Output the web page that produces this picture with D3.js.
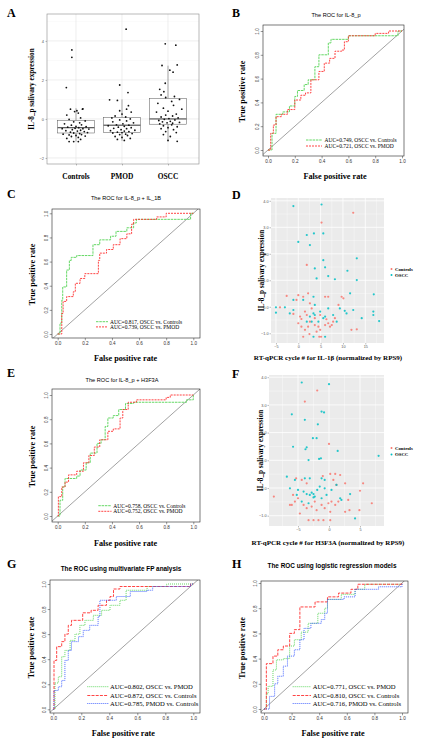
<!DOCTYPE html>
<html><head><meta charset="utf-8">
<script src="https://cdn.jsdelivr.net/npm/d3@7"></script>
<style>body{margin:0;background:#fff}svg{display:block}</style>
</head><body>
<script>
// ===================== DATA =====================
const boxCategories = ["Controls", "PMOD", "OSCC"];
// [lower whisker, q1, median, q3, upper whisker]
const boxStats = [
  [-1.16, -0.72, -0.45, -0.08, 0.55],
  [-1.12, -0.70, -0.32, 0.07, 1.0],
  [-1.15, -0.27, 0.0, 1.06, 2.73]
];
const boxYTicks = [-2, 0, 2, 4];
// [jitter offset (category units), value]
const ptsControls = [[-0.09,3.54],[-0.09,3.16],[-0.21,1.61],[0.15,0.52],[0.14,0.5],[-0.12,0.5],[0.02,0.42],[-0.03,0.38],[0.05,0.3],[-0.2,0.2],[0.1,0.05],[-0.15,-0.02],[0.2,-0.1],[-0.05,-0.15],[0.08,-0.2],[-0.25,-0.25],[0.12,-0.3],[-0.1,-0.32],[0.0,-0.38],[0.22,-0.4],[-0.18,-0.42],[0.06,-0.45],[-0.02,-0.48],[0.15,-0.5],[-0.3,-0.5],[0.28,-0.52],[-0.08,-0.55],[0.1,-0.58],[-0.22,-0.6],[0.03,-0.62],[0.18,-0.65],[-0.12,-0.68],[0.25,-0.7],[-0.05,-0.72],[0.08,-0.75],[-0.28,-0.78],[0.12,-0.8],[-0.15,-0.82],[0.0,-0.85],[0.2,-0.88],[-0.1,-0.9],[0.05,-0.95],[-0.2,-1.0],[0.1,-1.05],[-0.15,-1.16],[-0.05,-1.16],[0.05,-1.16]];
const ptsPMOD = [[0.09,4.6],[-0.05,1.74],[0.13,1.35],[-0.27,0.98],[-0.1,0.95],[0.14,0.68],[0.1,0.5],[-0.05,0.42],[0.2,0.35],[0.0,0.25],[-0.15,0.15],[0.08,0.1],[-0.22,0.05],[0.18,0.0],[-0.05,-0.05],[0.1,-0.1],[-0.2,-0.15],[0.25,-0.2],[0.02,-0.25],[-0.12,-0.3],[0.15,-0.32],[-0.3,-0.35],[0.05,-0.38],[-0.08,-0.42],[0.2,-0.45],[-0.18,-0.48],[0.1,-0.5],[-0.02,-0.55],[0.28,-0.58],[-0.25,-0.6],[0.05,-0.62],[0.15,-0.65],[-0.1,-0.68],[0.0,-0.7],[-0.2,-0.72],[0.22,-0.75],[0.08,-0.78],[-0.05,-0.8],[0.12,-0.85],[-0.15,-0.9],[0.0,-0.95],[0.18,-1.0],[-0.1,-1.05],[0.05,-1.1]];
const ptsOSCC = [[-0.06,3.85],[0.17,3.78],[-0.13,2.74],[0.2,2.77],[0.04,2.5],[0.11,2.4],[-0.06,1.83],[-0.18,1.52],[-0.09,1.4],[-0.15,1.23],[0.14,1.15],[-0.05,1.1],[0.25,1.0],[0.08,0.9],[-0.22,0.8],[0.12,0.7],[-0.1,0.55],[0.3,0.5],[0.0,0.4],[-0.25,0.35],[0.18,0.25],[-0.05,0.2],[0.1,0.15],[-0.15,0.1],[0.22,0.05],[0.02,0.02],[-0.08,-0.02],[0.15,-0.05],[-0.2,-0.08],[0.05,-0.12],[-0.12,-0.15],[0.25,-0.18],[-0.02,-0.2],[0.1,-0.22],[-0.18,-0.25],[0.08,-0.3],[-0.1,-0.35],[0.2,-0.4],[0.0,-0.45],[-0.15,-0.5],[0.12,-0.55],[-0.05,-0.65],[0.18,-0.7],[-0.1,-0.8],[0.05,-0.9],[0.0,-1.1],[0.2,-1.15]];

const rocTicks = [0, 0.2, 0.4, 0.6, 0.8, 1.0];
// ROC curves: [false positive rate, true positive rate]
const rocB_OSCCvsControls = [[0,0],[0.03,0.14],[0.06,0.30],[0.11,0.32],[0.16,0.37],[0.2,0.45],[0.22,0.5],[0.27,0.55],[0.3,0.59],[0.35,0.70],[0.38,0.80],[0.45,0.90],[0.47,0.93],[0.6,0.96],[0.97,1.0],[1,1]];
const rocB_OSCCvsPMOD = [[0,0],[0.02,0.14],[0.04,0.21],[0.06,0.28],[0.1,0.30],[0.145,0.34],[0.2,0.42],[0.245,0.46],[0.28,0.48],[0.32,0.59],[0.38,0.66],[0.42,0.73],[0.46,0.77],[0.5,0.83],[0.55,0.84],[0.57,0.91],[0.6,0.96],[0.8,0.98],[0.9,1.0],[1,1]];
const rocC_OSCCvsControls = [[0,0],[0.017,0.09],[0.03,0.28],[0.037,0.39],[0.066,0.53],[0.086,0.61],[0.1,0.635],[0.14,0.65],[0.26,0.74],[0.31,0.78],[0.39,0.81],[0.43,0.85],[0.51,0.88],[0.56,0.92],[0.58,0.95],[0.98,1.0],[1,1]];
const rocC_OSCCvsPMOD = [[0,0],[0.03,0.17],[0.04,0.27],[0.066,0.31],[0.115,0.35],[0.13,0.42],[0.165,0.46],[0.2,0.5],[0.3,0.61],[0.31,0.67],[0.36,0.70],[0.41,0.74],[0.46,0.79],[0.51,0.83],[0.545,0.91],[0.56,0.95],[0.73,0.97],[0.8,1.0],[1,1]];
const rocE_OSCCvsControls = [[0,0],[0.017,0.13],[0.037,0.24],[0.054,0.31],[0.14,0.33],[0.165,0.38],[0.21,0.44],[0.24,0.52],[0.29,0.6],[0.32,0.63],[0.35,0.74],[0.37,0.81],[0.41,0.83],[0.45,0.88],[0.5,0.93],[0.56,0.94],[0.95,0.96],[1,1]];
const rocE_OSCCvsPMOD = [[0,0],[0.005,0.16],[0.03,0.24],[0.054,0.28],[0.08,0.34],[0.14,0.37],[0.19,0.44],[0.23,0.5],[0.27,0.57],[0.31,0.63],[0.37,0.70],[0.41,0.72],[0.46,0.81],[0.48,0.88],[0.52,0.94],[0.58,0.96],[0.8,0.98],[0.83,1.0],[1,1]];
const rocG_OSCCvsPMOD = [[0,0],[0.012,0.21],[0.036,0.26],[0.06,0.42],[0.083,0.47],[0.12,0.55],[0.155,0.6],[0.19,0.67],[0.226,0.71],[0.286,0.75],[0.345,0.79],[0.405,0.83],[0.476,0.87],[0.52,0.95],[0.67,0.98],[0.81,1.0],[1,1]];
const rocG_OSCCvsControls = [[0,0],[0.005,0.39],[0.024,0.5],[0.06,0.54],[0.083,0.6],[0.107,0.67],[0.13,0.71],[0.21,0.77],[0.27,0.79],[0.32,0.83],[0.38,0.87],[0.405,0.9],[0.43,0.96],[0.476,0.98],[0.98,1.0],[1,1]];
const rocG_PMODvsControls = [[0,0],[0.005,0.15],[0.036,0.18],[0.06,0.23],[0.083,0.39],[0.107,0.47],[0.13,0.54],[0.18,0.58],[0.214,0.63],[0.26,0.67],[0.32,0.74],[0.333,0.87],[0.45,0.9],[0.55,0.94],[0.67,0.95],[0.71,0.98],[0.98,1.0],[1,1]];
const rocH_OSCCvsPMOD = [[0,0],[0.017,0.12],[0.03,0.18],[0.065,0.31],[0.09,0.39],[0.14,0.4],[0.186,0.5],[0.22,0.55],[0.27,0.61],[0.32,0.68],[0.39,0.76],[0.44,0.8],[0.46,0.87],[0.56,0.91],[0.66,0.95],[0.73,0.99],[1,1]];
const rocH_OSCCvsControls = [[0,0],[0.017,0.36],[0.065,0.42],[0.1,0.47],[0.14,0.5],[0.186,0.6],[0.22,0.63],[0.26,0.81],[0.37,0.85],[0.46,0.89],[0.54,0.92],[0.63,0.95],[0.68,0.99],[1,1]];
const rocH_PMODvsControls = [[0,0],[0.04,0.1],[0.077,0.2],[0.1,0.26],[0.14,0.34],[0.17,0.42],[0.22,0.47],[0.26,0.55],[0.29,0.64],[0.34,0.68],[0.415,0.71],[0.44,0.76],[0.46,0.87],[0.58,0.89],[0.66,0.95],[0.83,0.97],[1,1]];

const legendB = ["AUC=0.749, OSCC vs. Controls", "AUC=0.721, OSCC vs. PMOD"];
const legendC = ["AUC=0.817, OSCC vs. Controls", "AUC=0.739, OSCC vs. PMOD"];
const legendE = ["AUC=0.758, OSCC vs. Controls", "AUC=0.752, OSCC vs. PMOD"];
const legendG = ["AUC=0.802, OSCC vs. PMOD", "AUC=0.872, OSCC vs. Controls", "AUC=0.785, PMOD vs. Controls"];
const legendH = ["AUC=0.771, OSCC vs. PMOD", "AUC=0.810, OSCC vs. Controls", "AUC=0.716, PMOD vs. Controls"];

// scatter D: [IL-1β cycle, IL-8_p expression]
const scatterD_OSCC = [[-1.1,3.8],[5.2,3.86],[1.9,2.71],[3.5,2.77],[5.6,2.77],[0,2.45],[2.6,2.33],[5.6,1.76],[3.7,1.45],[6.0,1.49],[4.1,1.07],[6.7,1.16],[11.0,1.36],[13.1,1.01],[13.1,1.83],[8.2,1.04],[16.9,0.47],[11.6,0.51],[-5.0,-0.02],[-5.0,-0.22],[-3.0,-0.02],[-1.1,0.26],[1.1,0.26],[3.4,0.38],[3.7,0.07],[2.6,-0.37],[3.4,-0.25],[3.7,-0.31],[4.9,-0.18],[5.6,-0.43],[6.0,-0.37],[3.0,-0.56],[1.9,-0.56],[4.5,-0.56],[6.7,-0.06],[7.8,-0.31],[9.3,-0.06],[10.4,-0.15],[10.8,-0.25],[12.3,-0.12],[14.2,-0.43],[16.8,-0.18],[16.8,-0.31],[18.1,-0.54],[8.6,-0.56],[3.4,-1.13],[6.0,-1.13],[-1.1,-0.12],[-1.9,-0.25]];
const scatterD_Controls = [[12.3,3.55],[5.2,3.18],[1.9,1.58],[6.0,0.38],[6.7,0.38],[9.7,0.38],[10.1,0.32],[9.0,0.07],[1.1,0.38],[-2.6,0.41],[-0.4,0.26],[2.6,0.13],[3.0,-0.06],[1.5,-0.18],[0.4,-0.37],[0,-0.62],[0.7,-0.75],[1.5,-0.87],[2.2,-0.75],[2.6,-0.56],[3.7,-0.69],[4.5,-0.75],[4.9,-0.87],[6.0,-0.69],[6.7,-0.62],[7.1,-0.75],[7.5,-0.69],[7.8,-0.56],[8.2,-0.43],[6.3,-0.47],[1.1,-1.13],[4.7,-1.13],[5.1,-1.13],[11.9,-0.87],[13.1,-0.85],[4.1,-0.94],[2.5,-1.03],[0.7,-0.46],[1.9,-0.31],[3.7,-0.43],[4.9,-0.31],[-1.1,-0.27],[-4.1,-0.02],[2.2,0.51],[0,0.44]];
// scatter F: [H3F3A cycle, IL-8_p expression]
const scatterF_OSCC = [[-4.4,3.81],[0,3.75],[-6.0,2.66],[-3.9,2.46],[-1.2,2.76],[-0.8,2.73],[-1.8,2.3],[-2.0,1.8],[-2.6,1.8],[-3.6,1.47],[-3.8,1.4],[-5.8,1.49],[1.4,1.34],[-3.3,1.01],[-1.6,1.05],[-1.3,1.07],[8.0,1.16],[-6.8,0.41],[-5.5,0.29],[-3.1,0.35],[-1.2,0.35],[-0.7,0.29],[-6.3,-0.01],[-5.0,-0.07],[-4.1,-0.13],[-3.6,-0.22],[-3.1,-0.25],[-2.8,-0.17],[-2.5,-0.22],[-2.3,-0.31],[-1.9,-0.07],[-1.5,0.05],[-0.7,-0.01],[-1.2,-0.37],[-0.4,-0.25],[0.4,-0.07],[1.2,0.11],[1.8,-0.37],[2.0,-0.43],[3.4,-0.22],[4.2,-1.1],[-4.4,-0.49],[-3.3,-0.55],[-2.5,-0.34],[-5.2,-0.25],[-3.9,0.35]];
const scatterF_Controls = [[-1.9,3.52],[-3.9,3.12],[0,1.59],[-5.3,0.35],[-4.4,0.29],[-3.6,0.17],[-1.0,0.43],[0.2,0.51],[1.0,0.51],[1.8,0.47],[0.7,0.29],[-8.9,-0.31],[-6.0,-0.61],[-5.5,-0.49],[-5.0,-0.37],[-5.8,-0.25],[-4.1,-0.61],[-3.6,-0.73],[-2.8,-0.67],[-2.3,-0.49],[-2.0,-0.8],[-1.2,-0.61],[-0.7,-0.73],[-0.1,-0.55],[0.4,-0.49],[1.0,-0.61],[1.5,-0.49],[0.2,-0.86],[-4.7,-0.92],[-3.3,-1.16],[-2.5,-1.16],[-1.7,-1.16],[-0.9,-1.16],[0.2,-1.16],[2.6,0.17],[3.1,-0.43],[3.3,-0.8],[5.0,-0.1],[5.5,0.17],[6.9,-0.55],[4.9,-0.8],[2.6,-0.86],[-6.3,-0.61],[1.2,0.11]];
const scatterDXTicks = [-5, 0, 5, 10, 15];
const scatterDXMinor = [-2.5, 2.5, 7.5, 12.5, 17.5];
const scatterFXTicks = [-5, 0, 5];
const scatterFXMinor = [-7.5, -2.5, 2.5, 7.5];
const scatterYTicks = [-1, 0, 1, 2, 3, 4];
const scatterYMinor = [-0.5, 0.5, 1.5, 2.5, 3.5];
const scatterGroups = ["Controls", "OSCC"];

// ===================== DRAWING =====================
const W = 422, H = 744;
const SERIF = "'Liberation Serif','Times New Roman',serif";
const SANS = "'Liberation Sans',Arial,sans-serif";
const svg = d3.select("body").append("svg").attr("width", W).attr("height", H);
svg.append("rect").attr("width", W).attr("height", H).attr("fill", "#fff");
const defs = svg.append("defs");

function txt(g, s, x, y, o = {}) {
  const t = g.append("text").attr("x", x).attr("y", y).text(s)
    .attr("font-family", o.family || SERIF).attr("font-size", o.size || 7)
    .attr("font-weight", o.weight || "normal").attr("fill", o.fill || "#000")
    .attr("text-anchor", o.anchor || "start");
  if (o.rotate) t.attr("transform", `rotate(-90,${x},${y})`);
  return t;
}

// panel letters
[["A",7,17],["B",232,17],["C",7,197.5],["D",232,199],["E",7,377],["F",232,378],["G",7,568],["H",232,568]]
  .forEach(d => txt(svg, d[0], d[1], d[2], {size: 12, weight: "bold"}));

// ---------- Panel A: boxplot ----------
(function () {
  const l = 47, t = 14, r = 199, b = 164;
  const g = svg.append("g");
  const x = d3.scalePoint().domain(boxCategories).range([76, 168]);
  const y = d3.scaleLinear().domain([-2.31, 5.38]).range([b, t]);
  const step = x.step();
  g.append("rect").attr("x", l).attr("y", t).attr("width", r - l).attr("height", b - t).attr("fill", "#fff");
  const minorY = [-1, 1, 3, 5];
  g.selectAll(".mny").data(minorY).enter().append("line")
    .attr("x1", l).attr("x2", r).attr("y1", d => y(d)).attr("y2", d => y(d))
    .attr("stroke", "#f2f2f2").attr("stroke-width", 0.4);
  g.selectAll(".mjy").data(boxYTicks).enter().append("line")
    .attr("x1", l).attr("x2", r).attr("y1", d => y(d)).attr("y2", d => y(d))
    .attr("stroke", "#e3e3e3").attr("stroke-width", 0.6);
  g.selectAll(".mjx").data(boxCategories).enter().append("line")
    .attr("y1", t).attr("y2", b).attr("x1", d => x(d)).attr("x2", d => x(d))
    .attr("stroke", "#e3e3e3").attr("stroke-width", 0.6);
  const bw = 0.8 * step;
  boxStats.forEach((s, i) => {
    const cx = x(boxCategories[i]);
    g.append("line").attr("x1", cx).attr("x2", cx).attr("y1", y(s[3])).attr("y2", y(s[4])).attr("stroke", "#555").attr("stroke-width", 0.5);
    g.append("line").attr("x1", cx).attr("x2", cx).attr("y1", y(s[1])).attr("y2", y(s[0])).attr("stroke", "#555").attr("stroke-width", 0.5);
    g.append("rect").attr("x", cx - bw / 2).attr("y", y(s[3])).attr("width", bw).attr("height", y(s[1]) - y(s[3]))
      .attr("fill", "#fff").attr("stroke", "#555").attr("stroke-width", 0.5);
    g.append("line").attr("x1", cx - bw / 2).attr("x2", cx + bw / 2).attr("y1", y(s[2])).attr("y2", y(s[2])).attr("stroke", "#333").attr("stroke-width", 1);
  });
  [ptsControls, ptsPMOD, ptsOSCC].forEach((pts, i) => {
    const cx = x(boxCategories[i]);
    g.selectAll(null).data(pts).enter().append("circle")
      .attr("cx", d => cx + d[0] * step).attr("cy", d => y(d[1])).attr("r", 0.9).attr("fill", "#111");
  });
  g.append("rect").attr("x", l).attr("y", t).attr("width", r - l).attr("height", b - t)
    .attr("fill", "none").attr("stroke", "#8a8a8a").attr("stroke-width", 0.6);
  const ya = g.append("g").attr("transform", `translate(${l},0)`)
    .call(d3.axisLeft(y).tickValues(boxYTicks).tickSize(1.5).tickPadding(1.5));
  ya.select(".domain").remove();
  ya.selectAll("line").attr("stroke", "#555").attr("stroke-width", 0.4);
  ya.selectAll("text").attr("font-size", 4).attr("font-family", SANS).attr("fill", "#555");
  const xa = g.append("g").attr("transform", `translate(0,${b})`)
    .call(d3.axisBottom(x).tickSize(1.5).tickFormat(""));
  xa.select(".domain").remove();
  xa.selectAll("line").attr("stroke", "#555").attr("stroke-width", 0.4);
  boxCategories.forEach(c => txt(g, c, x(c), 178.5, {size: 7.4, weight: "bold", anchor: "middle"}));
  txt(g, "IL-8_p salivary expression", 34, 89, {size: 7.2, weight: "bold", anchor: "middle", rotate: true});
})();

// ---------- ROC panels ----------
function rocPanel(c) {
  const [l, t, r, b] = c.rect;
  const x = d3.scaleLinear().domain([0, 1]).range(c.xr);
  const y = d3.scaleLinear().domain([0, 1]).range(c.yr);
  const g = svg.append("g");
  defs.append("clipPath").attr("id", "clip" + c.id).append("rect")
    .attr("x", l).attr("y", t).attr("width", r - l).attr("height", b - t);
  const pg = g.append("g").attr("clip-path", `url(#clip${c.id})`);
  pg.append("line").attr("x1", l).attr("y1", y(x.invert(l))).attr("x2", r).attr("y2", y(x.invert(r)))
    .attr("stroke", "#444").attr("stroke-width", 0.5);
  const line = d3.line().x(d => x(d[0])).y(d => y(d[1])).curve(d3.curveStepAfter);
  c.curves.forEach(cv => pg.append("path").datum(cv.data).attr("d", line).attr("fill", "none")
    .attr("stroke", cv.color).attr("stroke-width", 0.9).attr("stroke-dasharray", cv.dash));
  g.append("rect").attr("x", l).attr("y", t).attr("width", r - l).attr("height", b - t)
    .attr("fill", "none").attr("stroke", "#222").attr("stroke-width", 0.6);
  const fmt = d3.format(".1f");
  const xa = g.append("g").attr("transform", `translate(0,${b})`)
    .call(d3.axisBottom(x).tickValues(rocTicks).tickFormat(fmt).tickSize(2.3).tickPadding(1.3));
  xa.select(".domain").remove();
  xa.selectAll("line").attr("stroke", "#333").attr("stroke-width", 0.5);
  xa.selectAll("text").attr("font-size", 4.6).attr("font-family", SANS).attr("fill", "#333");
  const ya = g.append("g").attr("transform", `translate(${l},0)`)
    .call(d3.axisLeft(y).tickValues(rocTicks).tickFormat(fmt).tickSize(2.3));
  ya.select(".domain").remove();
  ya.selectAll("line").attr("stroke", "#333").attr("stroke-width", 0.5);
  ya.selectAll("text").attr("x", 0).attr("dy", null).attr("text-anchor", "middle")
    .attr("transform", "translate(-4.3,0) rotate(-90)")
    .attr("font-size", 4.6).attr("font-family", SANS).attr("fill", "#333");
  txt(g, c.title, c.titleX, c.titleY, {family: SANS, size: c.titleSize, weight: c.titleWeight, anchor: "middle"});
  txt(g, "False positive rate", (c.xr[0] + c.xr[1]) / 2, c.xtY, {size: 8.2, weight: "bold", anchor: "middle"});
  txt(g, "True positive rate", c.ytX, (t + b) / 2 + 1, {size: 8.2, weight: "bold", anchor: "middle", rotate: true});
  const L = c.legend;
  c.curves.forEach((cv, i) => {
    const ly = L.ys[i];
    g.append("line").attr("x1", L.x1).attr("x2", L.x2).attr("y1", ly).attr("y2", ly)
      .attr("stroke", cv.color).attr("stroke-width", 0.9).attr("stroke-dasharray", cv.dash);
    txt(g, L.labels[i], L.tx, ly + L.size * 0.35, {size: L.size});
  });
}

const GREEN = "#55d455", RED = "#ff3030", BLUE = "#3a5cff";
rocPanel({id: "B", rect: [263, 25, 404, 156], xr: [268, 402], yr: [150, 31],
  title: "The ROC for IL-8_p", titleX: 336, titleY: 17, titleSize: 5.6, titleWeight: "normal",
  xtY: 178.5, ytX: 244.5,
  curves: [{data: rocB_OSCCvsControls, color: GREEN, dash: "2.5,0.8"}, {data: rocB_OSCCvsPMOD, color: RED, dash: "2,1"}],
  legend: {x1: 306, x2: 322, tx: 324.5, ys: [140, 146], size: 5.5, labels: legendB}});
rocPanel({id: "C", rect: [52, 209, 200, 338], xr: [57.7, 193.3], yr: [334, 213.3],
  title: "The ROC for IL-8_p + IL_1B", titleX: 126, titleY: 200, titleSize: 5.6, titleWeight: "normal",
  xtY: 361, ytX: 34.5,
  curves: [{data: rocC_OSCCvsControls, color: GREEN, dash: "2.5,0.8"}, {data: rocC_OSCCvsPMOD, color: RED, dash: "2,1"}],
  legend: {x1: 96, x2: 108, tx: 110, ys: [321.7, 326.9], size: 5.5, labels: legendC}});
rocPanel({id: "E", rect: [52, 389, 200, 522], xr: [57.7, 193.3], yr: [516, 395],
  title: "The ROC for IL-8_p + H3F3A", titleX: 122, titleY: 381.5, titleSize: 5.6, titleWeight: "normal",
  xtY: 545.5, ytX: 34.5,
  curves: [{data: rocE_OSCCvsControls, color: GREEN, dash: "2.5,0.8"}, {data: rocE_OSCCvsPMOD, color: RED, dash: "2,1"}],
  legend: {x1: 98.3, x2: 111.5, tx: 113.3, ys: [505.7, 511.3], size: 5.5, labels: legendE}});
rocPanel({id: "G", rect: [50, 580, 200, 713], xr: [53.3, 193.3], yr: [709.3, 584],
  title: "The ROC using multivariate FP analysis", titleX: 121, titleY: 570.5, titleSize: 6.4, titleWeight: "bold",
  xtY: 735.5, ytX: 33.5,
  curves: [{data: rocG_OSCCvsPMOD, color: GREEN, dash: "1,1"}, {data: rocG_OSCCvsControls, color: RED, dash: "3,1.2"}, {data: rocG_PMODvsControls, color: BLUE, dash: "1,1"}],
  legend: {x1: 87.3, x2: 108.3, tx: 110, ys: [686.7, 695.5, 703.5], size: 6.6, labels: legendG}});
rocPanel({id: "H", rect: [261, 581, 408, 713], xr: [264, 402], yr: [709, 583],
  title: "The ROC using logistic regression models", titleX: 332, titleY: 568, titleSize: 6.4, titleWeight: "bold",
  xtY: 735.5, ytX: 244.5,
  curves: [{data: rocH_OSCCvsPMOD, color: GREEN, dash: "1,1"}, {data: rocH_OSCCvsControls, color: RED, dash: "3,1.2"}, {data: rocH_PMODvsControls, color: BLUE, dash: "1,1"}],
  legend: {x1: 292.7, x2: 311, tx: 312.7, ys: [686.7, 695.5, 703.5], size: 6.6, labels: legendH}});

// ---------- Scatter panels ----------
function scatterPanel(c) {
  const [l, t, r, b] = c.rect;
  const x = d3.scaleLinear().domain(c.xd).range([l, r]);
  const y = d3.scaleLinear().domain(c.yd).range([b, t]);
  const color = d3.scaleOrdinal().domain(scatterGroups).range(["#F8766D", "#00BFC4"]);
  const g = svg.append("g");
  g.append("rect").attr("x", l).attr("y", t).attr("width", r - l).attr("height", b - t).attr("fill", "#EBEBEB");
  const vl = (arr, w) => g.selectAll(null).data(arr).enter().append("line")
    .attr("x1", d => x(d)).attr("x2", d => x(d)).attr("y1", t).attr("y2", b).attr("stroke", "#fff").attr("stroke-width", w);
  const hl = (arr, w) => g.selectAll(null).data(arr).enter().append("line")
    .attr("y1", d => y(d)).attr("y2", d => y(d)).attr("x1", l).attr("x2", r).attr("stroke", "#fff").attr("stroke-width", w);
  vl(c.xMinor, 0.35); hl(scatterYMinor, 0.35); vl(c.xTicks, 0.8); hl(scatterYTicks, 0.8);
  [[c.controls, "Controls"], [c.oscc, "OSCC"]].forEach(([pts, grp]) => {
    g.selectAll(null).data(pts).enter().append("circle")
      .attr("cx", d => x(d[0])).attr("cy", d => y(d[1])).attr("r", 1.1).attr("fill", color(grp)).attr("fill-opacity", 0.85);
  });
  const xa = g.append("g").attr("transform", `translate(0,${b})`)
    .call(d3.axisBottom(x).tickValues(c.xTicks).tickSize(1.5).tickPadding(1));
  xa.select(".domain").remove();
  xa.selectAll("line").attr("stroke", "#555").attr("stroke-width", 0.4);
  xa.selectAll("text").attr("font-size", 3.8).attr("font-family", SANS).attr("fill", "#555");
  const ya = g.append("g").attr("transform", `translate(${l},0)`)
    .call(d3.axisLeft(y).tickValues(scatterYTicks).tickSize(1.5).tickPadding(1));
  ya.select(".domain").remove();
  ya.selectAll("line").attr("stroke", "#555").attr("stroke-width", 0.4);
  ya.selectAll("text").attr("font-size", 3.8).attr("font-family", SANS).attr("fill", "#555");
  txt(g, c.xTitle, c.xtX, c.xtY, {size: 7.0, weight: "bold", anchor: "middle"});
  txt(g, "IL-8_p salivary expression", c.ytX, (t + b) / 2, {size: 7.2, weight: "bold", anchor: "middle", rotate: true});
  scatterGroups.forEach((grp, i) => {
    const ly = c.legY + i * c.legDy;
    g.append("circle").attr("cx", c.legX).attr("cy", ly).attr("r", 1).attr("fill", color(grp));
    txt(g, grp, c.legX + 3.5, ly + 1.6, {size: 4.8, weight: "bold"});
  });
}
scatterPanel({rect: [271, 198, 384, 343], xd: [-6.11, 19.19], yd: [-1.366, 4.106],
  xTicks: scatterDXTicks, xMinor: scatterDXMinor, controls: scatterD_Controls, oscc: scatterD_OSCC,
  xTitle: "RT-qPCR cycle # for IL-1\u03B2 (normalized by RPS9)", xtX: 328, xtY: 359.5, ytX: 264,
  legX: 391.5, legY: 269, legDy: 6});
scatterPanel({rect: [269, 375, 384, 526], xd: [-9.68, 8.87], yd: [-1.372, 4.08],
  xTicks: scatterFXTicks, xMinor: scatterFXMinor, controls: scatterF_Controls, oscc: scatterF_OSCC,
  xTitle: "RT-qPCR cycle # for H3F3A (normalized by RPS9)", xtX: 328, xtY: 545, ytX: 263,
  legX: 391.5, legY: 448, legDy: 6.4});
</script>
</body></html>
